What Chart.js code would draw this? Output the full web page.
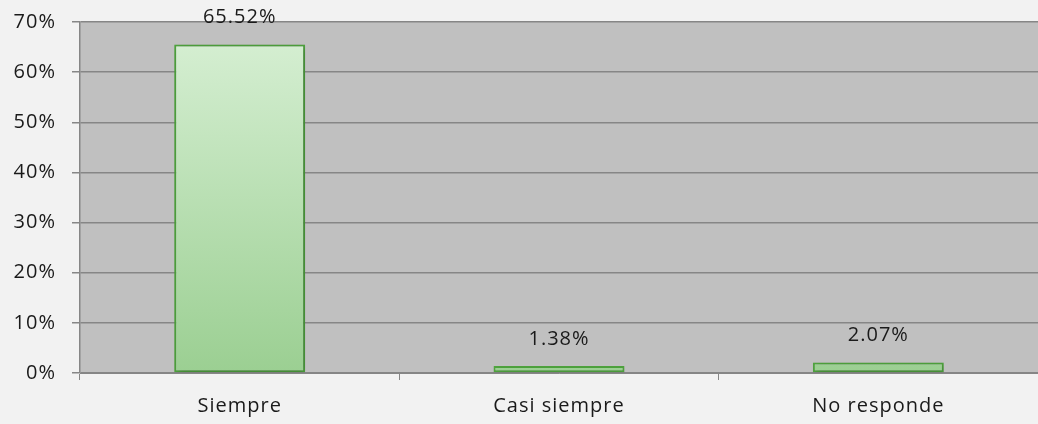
<!DOCTYPE html>
<html>
<head>
<meta charset="utf-8">
<script src="https://cdn.jsdelivr.net/npm/chart.js@4/dist/chart.umd.min.js"></script>
<style>
  html, body { margin: 0; padding: 0; background: #f2f2f2; }
  #wrap { width: 1038px; height: 424px; }
</style>
</head>
<body>
<div id="wrap"><canvas id="chart" width="1038" height="424"></canvas></div>
<script>
const categories = ["Siempre", "Casi siempre", "No responde"];
const percentValues = [65.52, 1.38, 2.07];
const valueLabels = ["65.52%", "1.38%", "2.07%"];

const FONT = "'Open Sans', sans-serif";
const TEXT_COLOR = "#1a1a1a";
const GRID_COLOR = "#868686";

// text in the reference is spaced a bit wider than Open Sans
const wideText = {
  id: "wideText",
  beforeUpdate(chart) { chart.ctx.letterSpacing = "1px"; },
  beforeDraw(chart) { chart.ctx.letterSpacing = "1px"; },
};

// fill the plot area grey before anything else is drawn
const plotBackground = {
  id: "plotBackground",
  beforeDraw(chart) {
    const { ctx, chartArea } = chart;
    ctx.save();
    ctx.fillStyle = "#c0c0c0";
    ctx.fillRect(chartArea.left, chartArea.top, chartArea.right - chartArea.left, chartArea.bottom - chartArea.top);
    ctx.restore();
  },
};

// soft shadow behind the bars
const barShadow = {
  id: "barShadow",
  beforeDatasetsDraw(chart) {
    const ctx = chart.ctx;
    ctx.save();
    ctx.shadowColor = "rgba(0, 0, 0, 0.25)";
    ctx.shadowBlur = 6;
    ctx.shadowOffsetX = 2;
    ctx.shadowOffsetY = 2;
  },
  afterDatasetsDraw(chart) {
    chart.ctx.restore();
  },
};

// value labels above each bar
const barValueLabels = {
  id: "barValueLabels",
  afterDatasetsDraw(chart) {
    const ctx = chart.ctx;
    const meta = chart.getDatasetMeta(0);
    ctx.save();
    ctx.fillStyle = TEXT_COLOR;
    ctx.font = "20px " + FONT;
    ctx.textAlign = "center";
    ctx.textBaseline = "middle";
    meta.data.forEach((bar, i) => {
      ctx.fillText(valueLabels[i], bar.x, bar.y - 27);
    });
    ctx.restore();
  },
};

const barGradient = (context) => {
  const area = context.chart.chartArea;
  if (!area) return "#b5dfae";
  const g = context.chart.ctx.createLinearGradient(0, area.top, 0, area.bottom);
  g.addColorStop(0, "#d8f0d5");
  g.addColorStop(1, "#9bcf92");
  return g;
};

new Chart(document.getElementById("chart"), {
  type: "bar",
  data: {
    labels: categories,
    datasets: [
      {
        data: percentValues,
        backgroundColor: barGradient,
        borderColor: "#4fa53e",
        borderWidth: 2,
        borderSkipped: false,
        categoryPercentage: 1,
        barPercentage: 0.41,
      },
    ],
  },
  options: {
    responsive: false,
    animation: false,
    layout: { padding: { top: 22, right: 0, left: 0, bottom: 0 } },
    plugins: {
      legend: { display: false },
      tooltip: { enabled: false },
    },
    scales: {
      x: {
        grid: {
          drawOnChartArea: false,
          drawTicks: true,
          tickLength: 7,
          color: GRID_COLOR,
        },
        border: { color: GRID_COLOR },
        ticks: {
          color: TEXT_COLOR,
          font: { family: FONT, size: 20 },
          padding: 14,
        },
        afterFit: (scale) => {
          scale.height = 51;
          scale.paddingLeft = 0;
          scale.paddingRight = 0;
        },
      },
      y: {
        min: 0,
        max: 70,
        ticks: {
          stepSize: 10,
          color: TEXT_COLOR,
          font: { family: FONT, size: 20 },
          padding: 16,
          callback: (v) => v + "%",
        },
        grid: {
          color: GRID_COLOR,
          lineWidth: 1.5,
          tickLength: 8,
        },
        border: { color: GRID_COLOR, width: 1.5 },
        afterFit: (scale) => {
          scale.width = 80;
          scale.paddingTop = 0;
          scale.paddingBottom = 0;
        },
      },
    },
  },
  plugins: [wideText, plotBackground, barShadow, barValueLabels],
});
</script>
</body>
</html>
